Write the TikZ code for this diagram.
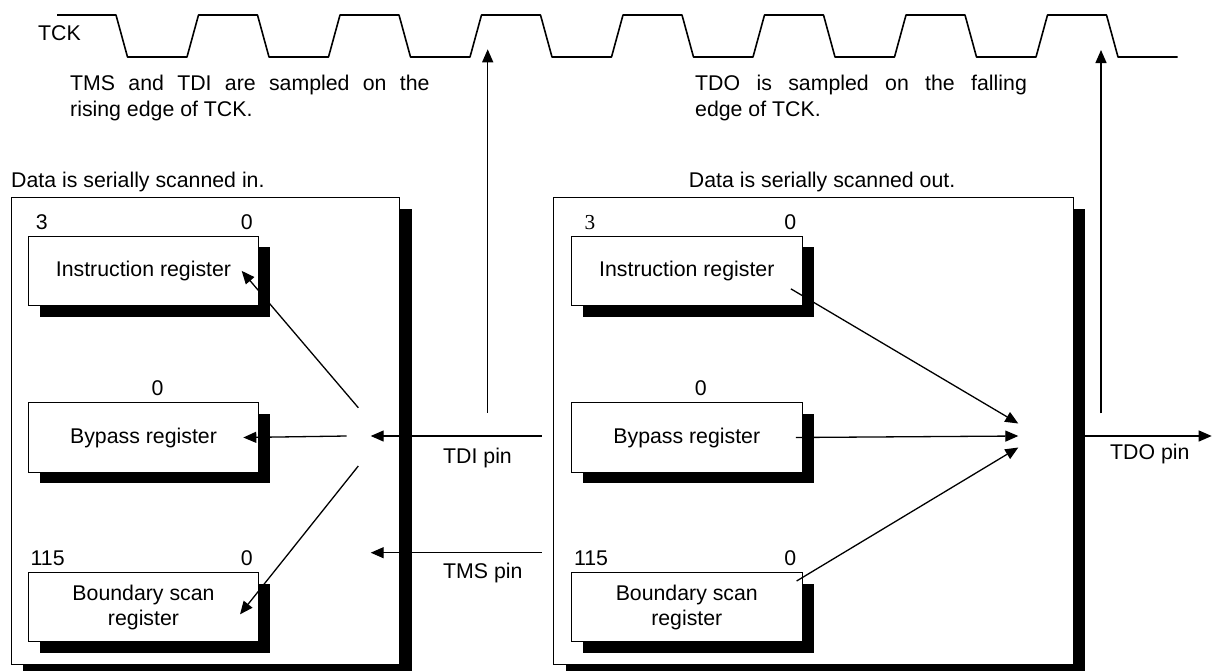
\documentclass[tikz,border=0pt]{standalone}
\usepackage{fontspec}
\setmainfont{Liberation Sans}
\newfontfamily\serifdigits{Liberation Serif}
\usetikzlibrary{positioning,shadows,arrows.meta}

\begin{document}
\begin{tikzpicture}[
                x=1pt, y=-1pt,
                font=\fontsize{21.3pt}{26pt}\selectfont,
                chip/.style={draw, fill=white, line width=1pt, minimum width=#1,
                        minimum height=466.7pt, inner sep=0pt,
                        drop shadow={shadow xshift=12pt, shadow yshift=-11pt, fill=black, opacity=1}},
                register/.style={draw, fill=white, line width=1pt, minimum width=230.6pt,
                        minimum height=69.3pt, inner sep=0pt, align=center,
                        font=\fontsize{21.3pt}{25pt}\selectfont,
                        drop shadow={shadow xshift=11.5pt, shadow yshift=-11pt, fill=black, opacity=1}},
                bit/.style={anchor=base, inner sep=0pt},
                caption/.style={anchor=base west, inner sep=0pt},
                note/.style={anchor=base west, inner sep=0pt, text width=#1, align=justify},
                sigarrow/.style={line width=1.3pt, -{Triangle[length=13pt,width=11pt]}},
                wave/.style={line width=1.6pt, line join=round}
            ]

            \useasboundingbox (0,0) rectangle (1212,670);

            % clock
            \draw[wave] (57,15) -- (116,15)
                \foreach \k in {0,...,6} { -- ++(11.5,42) -- ++(59.5,0) -- ++(11.5,-42) -- ++(59,0) }
                -- ++(11.5,42) -- (1177.7,57);
            \node[caption] (tck) at (38,40.6) {TCK};

            \node[note=359.3pt] (risenote) at (70,90.7) {TMS and TDI are sampled on the\linebreak rising edge of TCK.};
            \node[note=331.7pt] (fallnote) at (695,90.7) {TDO is sampled on the falling\linebreak edge of TCK.};

            % devices
            \node[chip=388.3pt, anchor=north west] (chipin) at (10.7,197.3) {};
            \node[chip=519.4pt, right=153.3pt of chipin] (chipout) {};
            \node[caption] (scanin) at (11,187.3) {Data is serially scanned in.};
            \node[caption, anchor=base east] (scanout) at (955.5,187.3) {Data is serially scanned out.};

            \node[register, anchor=north west] (irin) at (27.7,235.7) {Instruction register};
            \node[register, below=96.35pt of irin] (bypin) {Bypass register};
            \node[register, below=99.35pt of bypin] (bsrin) {Boundary scan\\register};
            \node[register, right=311.7pt of irin] (irout) {Instruction register};
            \node[register, right=311.7pt of bypin] (bypout) {Bypass register};
            \node[register, right=311.7pt of bsrin] (bsrout) {Boundary scan\\register};

            \node[bit] (irinhi) at ([xshift=14pt,yshift=6.5pt]irin.north west) {3};
            \node[bit] (irinlo) at ([xshift=-12.6pt,yshift=6.5pt]irin.north east) {0};
            \node[bit] (bypinlo) at ([xshift=14pt,yshift=6.5pt]bypin.north) {0};
            \node[bit] (bsrinhi) at ([xshift=20pt,yshift=6.5pt]bsrin.north west) {115};
            \node[bit] (bsrinlo) at ([xshift=-12.6pt,yshift=6.5pt]bsrin.north east) {0};
            \node[bit] (irouthi) at ([xshift=19pt,yshift=6.5pt]irout.north west) {\serifdigits 3};
            \node[bit] (iroutlo) at ([xshift=-12.3pt,yshift=6.5pt]irout.north east) {0};
            \node[bit] (bypoutlo) at ([xshift=14pt,yshift=6.5pt]bypout.north) {0};
            \node[bit] (bsrouthi) at ([xshift=20pt,yshift=6.5pt]bsrout.north west) {115};
            \node[bit] (bsroutlo) at ([xshift=-12.3pt,yshift=6.5pt]bsrout.north east) {0};

            % scan in
            \coordinate (tdipin) at (541.7,436);
            \coordinate (tdihub) at (370.7,436);
            \coordinate (tmspin) at (541.7,552.7);
            \coordinate (tmshub) at (370.7,552.7);
            \draw[sigarrow] (tdipin) -- (tdihub);
            \draw[sigarrow] (tmspin) -- (tmshub);
            \node[caption] (tdilbl) at (443,463.3) {TDI pin};
            \node[caption] (tmslbl) at (443,578.6) {TMS pin};

            \coordinate (fanir) at (358.3,407.7);
            \coordinate (fanbyp) at (346.7,436);
            \coordinate (fanbsr) at (358.3,466);
            \draw[sigarrow] (fanir) -- ([xshift=-17.6pt]irin.east);
            \draw[sigarrow] (fanbyp) -- ([xshift=-16pt]bypin.east);
            \draw[sigarrow] (fanbsr) -- ([xshift=-19.3pt,yshift=-7.2pt]bsrin.east);

            % scan out
            \coordinate (mergeir) at (1018.3,423.5);
            \coordinate (mergebyp) at (1018.3,436);
            \coordinate (mergebsr) at (1018.3,447.5);
            \draw[sigarrow] ([xshift=-11.7pt,yshift=-18pt]irout.east) -- (mergeir);
            \draw[sigarrow] ([xshift=-6.7pt]bypout.east) -- (mergebyp);
            \draw[sigarrow] ([xshift=-6pt,yshift=-9pt]bsrout.north east) -- (mergebsr);

            \coordinate (tdopin) at (1211.7,436);
            \draw[sigarrow] (chipout.east |- mergebyp) -- (tdopin);
            \node[caption] (tdolbl) at (1110,459.9) {TDO pin};

            % sampling edges
            \coordinate (tditap) at (487.7,412.7);
            \coordinate (tdisample) at (487.7,49.3);
            \coordinate (tdotap) at (1101,413.3);
            \coordinate (tdosample) at (1101,50);
            \draw[sigarrow] (tditap) -- (tdisample);
            \draw[sigarrow] (tdotap) -- (tdosample);

        \end{tikzpicture}
\end{document}
